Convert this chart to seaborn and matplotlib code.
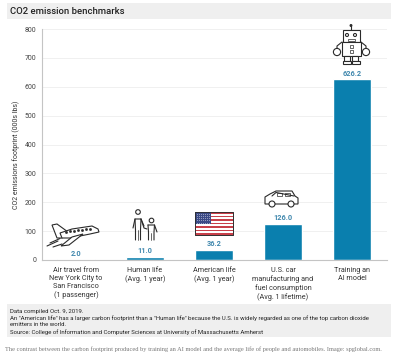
import matplotlib
matplotlib.use('Agg')
import matplotlib.pyplot as plt
from matplotlib.patches import Rectangle, Circle, Polygon
import pandas as pd
import seaborn as sns

categories = ['Air travel from\nNew York City to\nSan Francisco\n(1 passenger)',
              'Human life\n(Avg. 1 year)',
              'American life\n(Avg. 1 year)',
              'U.S. car\nmanufacturing and\nfuel consumption\n(Avg. 1 lifetime)',
              'Training an\nAI model']
values = [2.0, 11.0, 36.2, 126.0, 626.2]
yticks = [0, 100, 200, 300, 400, 500, 600, 700, 800]
title = 'CO2 emission benchmarks'
ylabel = 'CO2 emissions footprint (000s lbs)'
notes = ['Data compiled Oct. 9, 2019.',
         'An "American life" has a larger carbon footprint than a "Human life" because the U.S. is widely regarded as one of the top carbon dioxide',
         'emitters in the world.',
         'Source: College of Information and Computer Sciences at University of Massachusetts Amherst']
caption = 'The contrast between the carbon footprint produced by training an AI model and the average life of people and automobiles. Image: spglobal.com.'

W, H = 400, 358
BLUE = '#0a7fae'
INK = '#333333'

sns.set_theme(style='white')
plt.rcParams['font.family'] = ['Roboto', 'DejaVu Sans']

fig = plt.figure(figsize=(W / 100, H / 100), dpi=100)

# background layer, in pixels
bg = fig.add_axes([0, 0, 1, 1], zorder=0)
bg.set_xlim(0, W)
bg.set_ylim(H, 0)
bg.axis('off')
bg.add_patch(Rectangle((7, 3), 384, 16, color='#efefef', lw=0))
bg.add_patch(Rectangle((7, 304), 384, 33, color='#efefef', lw=0))
bg.text(10, 11.5, title, fontsize=6.8, color='#222222', va='center', fontweight='medium')
for i, line_text in enumerate(notes):
    bg.text(10, 311 + i * 7, line_text, fontsize=4.35, color='#222222', va='center')
bg.text(5, 349.5, caption, fontsize=4.6, color='#777777', va='center', family='Liberation Serif')
bg.text(16, 155, ylabel, fontsize=5.0, color=INK, rotation=90, ha='center', va='center')

# chart
x0, x1, ytop, ybot = 41.5, 386.5, 29, 260
ax = fig.add_axes([x0 / W, 1 - ybot / H, (x1 - x0) / W, (ybot - ytop) / H], zorder=1)
ax.patch.set_alpha(0)
df = pd.DataFrame({'category': categories, 'value': values})
sns.barplot(data=df, x='category', y='value', color=BLUE, saturation=1, width=0.55, ax=ax)
ax.set_ylim(0, 800)
ax.set_yticks(yticks)
ax.set_xlim(-0.5, 4.5)
ax.grid(axis='y', color='#f0f0f0', lw=0.7)
ax.set_axisbelow(True)
ax.set_xlabel('')
ax.set_ylabel('')
ax.tick_params(axis='y', length=0, labelsize=5.0, labelcolor='#444444', pad=3.6)
ax.tick_params(axis='x', length=0, labelsize=5.2, labelcolor=INK, pad=5.2)
ax.set_xticks([i + 0.5 for i in range(-1, 5)], minor=True)
ax.tick_params(axis='x', which='minor', length=1.5, width=0.6, color='#c4c4c4')
for label in ax.get_xticklabels():
    label.set_linespacing(1.2)
sns.despine(ax=ax)
for side in ['left', 'bottom']:
    ax.spines[side].set_color('#c4c4c4')
    ax.spines[side].set_linewidth(0.8)
ax.bar_label(ax.containers[0], fmt='%.1f', padding=1.2, fontsize=5.3, color='#3f87ad', fontweight='bold')

# pictograms, in pixels
ic = fig.add_axes([0, 0, 1, 1], zorder=2)
ic.set_xlim(0, W)
ic.set_ylim(H, 0)
ic.axis('off')
LW = 0.8
DARK = '#2a2a2a'


def line(xs, ys, lw=LW):
    ic.plot(xs, ys, color=DARK, lw=lw, solid_capstyle='round')


def poly(pts, fc='white', lw=LW):
    ic.add_patch(Polygon(pts, closed=True, fc=fc, ec=DARK, lw=lw))


def box(x, y, w, h, fc='white', lw=LW):
    ic.add_patch(Rectangle((x, y), w, h, fc=fc, ec=DARK, lw=lw))


def circ(x, y, r, fc='white', lw=LW):
    ic.add_patch(Circle((x, y), r, fc=fc, ec=DARK, lw=lw))


# plane
poly([(52, 225), (57, 224), (68, 232), (62, 238), (57, 238)])
poly([(60, 233), (72, 229), (92, 226), (98, 229), (99, 232), (90, 234), (70, 238), (62, 238)])
poly([(72, 237), (83, 234), (69, 245), (61, 246)])
for px in range(66, 92, 4):
    ic.plot([px], [232 - (px - 66) * 0.13], 's', ms=0.9, color=DARK)
line([47, 58], [246, 241])
line([50, 60], [243, 238.5])
line([53, 62], [247, 244])

# people
circ(138, 212, 2.3)
line([133, 135, 141, 144], [228, 219, 219, 226])
line([135, 135.5, 135.5], [219, 230, 240])
line([141, 140.5, 140.5], [219, 230, 240])
line([138, 138], [230, 240], lw=0.5)
line([141, 144, 147], [219, 228, 229])
circ(151.5, 220.5, 2.3)
line([148, 148.5, 148.5], [225, 232, 240])
line([154.5, 154, 154], [225, 232, 240])
line([148, 154.5, 157], [225, 225, 232])
line([151.3, 151.3], [233, 240], lw=0.5)

# flag
box(195, 212, 38, 23, fc='white', lw=0.5)
for s in range(7):
    ic.add_patch(Rectangle((195, 212 + s * 23 / 6.5), 38, 23 / 13, color='#c8404a', lw=0))
ic.add_patch(Rectangle((195, 212), 16, 12.4, color='#3b4a86', lw=0))
for r in range(5):
    for c in range(7):
        ic.plot([196.5 + c * 2.15], [213.5 + r * 2.3], '.', ms=0.9, mew=0, color='#e6e8f2')
box(195, 212, 38, 23, fc='none', lw=0.6)

# car
poly([(265, 197), (270, 194), (276, 191), (292, 191), (295, 196), (298, 198), (298, 204), (265, 204)])
line([272, 276, 294], [196, 192.5, 196])
box(277, 193, 5, 3, lw=0.5)
box(285, 193, 5, 3, lw=0.5)
circ(272, 204, 3)
circ(291, 204, 3)

# robot
circ(351, 25.5, 0.9, fc=DARK)
line([351, 351], [26, 30])
box(343, 30, 17, 12)
circ(347, 35, 1.5)
circ(355, 35, 1.5)
box(347.5, 39, 7, 2, lw=0.5)
box(342, 42, 19, 13.5)
box(349.5, 45, 3, 3, lw=0.5)
box(349.5, 50, 3, 3, lw=0.5)
line([342, 337, 337], [42, 46, 48])
line([361, 366, 366], [42, 46, 48])
circ(337, 52, 3.6)
circ(366, 52, 3.6)
box(344, 56, 6, 4.5)
box(352, 56, 6, 4.5)
box(342.5, 60.5, 8, 3)
box(351.5, 60.5, 8, 3)

fig.savefig('out.png', dpi=100)
